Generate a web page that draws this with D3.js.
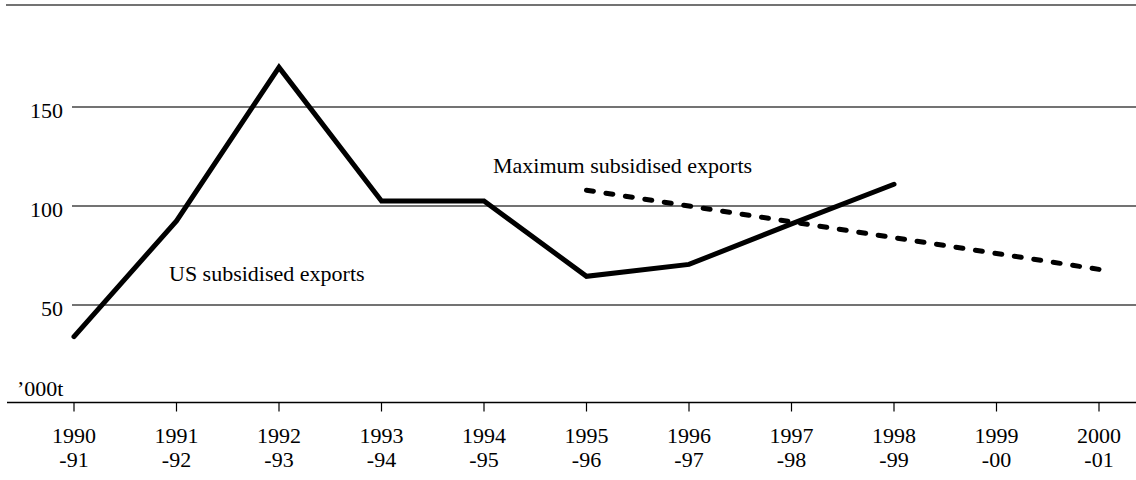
<!DOCTYPE html>
<html>
<head>
<meta charset="utf-8">
<script src="https://cdn.jsdelivr.net/npm/d3@7"></script>
<style>
  body { margin: 0; background: #fff; }
  text { font-family: "Liberation Serif", "Times New Roman", serif; fill: #000; }
</style>
</head>
<body>
<div id="chart"></div>
<script>
const years = ["1990", "1991", "1992", "1993", "1994", "1995", "1996", "1997", "1998", "1999", "2000"];
const yearEnds = ["-91", "-92", "-93", "-94", "-95", "-96", "-97", "-98", "-99", "-00", "-01"];
const usExports = [34, 92.5, 170, 102.5, 102.5, 64.5, 70.5, 91, 111];
const maxExports = [108, 100, 92, 84, 76, 68]; // 1995-96 to 2000-01
const yTicks = [50, 100, 150];

const width = 1136;
const height = 480;

const svg = d3.select("#chart")
  .append("svg")
  .attr("width", width)
  .attr("height", height);

const x = d3.scalePoint()
  .domain(years)
  .range([74, 1099]);

const y = d3.scaleLinear()
  .domain([0, 150])
  .range([404, 107]);

// top rule
svg.append("line")
  .attr("x1", 6).attr("x2", width)
  .attr("y1", 5).attr("y2", 5)
  .style("stroke", "#444")
  .style("stroke-width", 1.5);

// gridlines
svg.selectAll(".grid")
  .data(yTicks)
  .enter()
  .append("line")
  .attr("x1", 72).attr("x2", width)
  .attr("y1", (d) => y(d)).attr("y2", (d) => y(d))
  .style("stroke", "#444")
  .style("stroke-width", 1.3);

svg.selectAll(".ylab")
  .data(yTicks)
  .enter()
  .append("text")
  .attr("x", 63)
  .attr("y", (d) => y(d) + 11)
  .attr("text-anchor", "end")
  .style("font-size", "22px")
  .text((d) => d);

// x axis
const axisY = 402.5;
svg.append("line")
  .attr("x1", 7).attr("x2", width)
  .attr("y1", axisY).attr("y2", axisY)
  .style("stroke", "#000")
  .style("stroke-width", 1.3);

svg.selectAll(".tick")
  .data(years)
  .enter()
  .append("line")
  .attr("x1", (d) => x(d)).attr("x2", (d) => x(d))
  .attr("y1", axisY).attr("y2", axisY + 9)
  .style("stroke", "#000")
  .style("stroke-width", 1.2);

const labels = svg.selectAll(".xlab")
  .data(years)
  .enter()
  .append("text")
  .attr("text-anchor", "middle")
  .style("font-size", "22px");
labels.append("tspan")
  .attr("x", (d) => x(d))
  .attr("y", 443)
  .text((d) => d);
labels.append("tspan")
  .attr("x", (d) => x(d))
  .attr("y", 466.5)
  .text((d, i) => yearEnds[i]);

svg.append("text")
  .attr("x", 17)
  .attr("y", 396)
  .style("font-size", "22px")
  .text("’000t");

// lines
const line = d3.line()
  .x((d) => x(d.year))
  .y((d) => y(d.value));

svg.append("path")
  .datum(usExports.map((v, i) => ({ year: years[i], value: v })))
  .attr("d", line)
  .style("fill", "none")
  .style("stroke", "#000")
  .style("stroke-width", 5)
  .style("stroke-linecap", "round")
  .style("stroke-linejoin", "miter");

const dashed = svg.append("path")
  .datum(maxExports.map((v, i) => ({ year: years[i + 5], value: v })))
  .attr("d", line)
  .style("fill", "none")
  .style("stroke", "#000")
  .style("stroke-width", 5)
  .style("stroke-linecap", "round");

// stretch the gap a little so the dashes end on the last point
const len = dashed.node().getTotalLength();
const dash = 7;
const n = Math.round((len - dash) / 20);
const gap = (len - dash) / n - dash;
dashed.style("stroke-dasharray", dash + "," + gap);

svg.append("text")
  .attr("x", 493)
  .attr("y", 172.5)
  .style("font-size", "22px")
  .text("Maximum subsidised exports");

svg.append("text")
  .attr("x", 169)
  .attr("y", 281)
  .style("font-size", "22px")
  .text("US subsidised exports");
</script>
</body>
</html>
